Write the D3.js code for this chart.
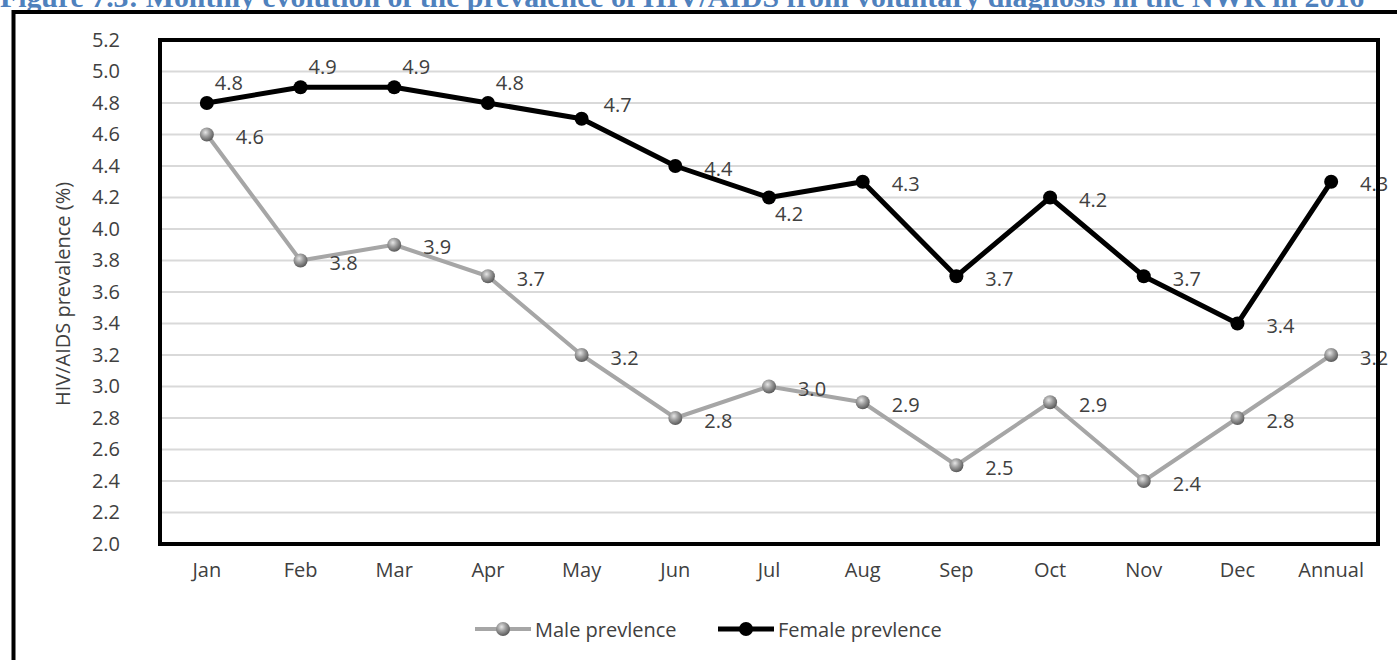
<!DOCTYPE html>
<html>
<head>
<meta charset="utf-8">
<script src="https://cdn.jsdelivr.net/npm/d3@7"></script>
<style>
  html, body { margin: 0; padding: 0; background: #ffffff; }
  svg { display: block; }
</style>
</head>
<body>
<svg id="chart" width="1397" height="660"></svg>
<script>
// ---- data ----
const categories = ["Jan", "Feb", "Mar", "Apr", "May", "Jun", "Jul", "Aug", "Sep", "Oct", "Nov", "Dec", "Annual"];
const maleValues = [4.6, 3.8, 3.9, 3.7, 3.2, 2.8, 3.0, 2.9, 2.5, 2.9, 2.4, 2.8, 3.2];
const femaleValues = [4.8, 4.9, 4.9, 4.8, 4.7, 4.4, 4.2, 4.3, 3.7, 4.2, 3.7, 3.4, 4.3];
const yTicks = [2.0, 2.2, 2.4, 2.6, 2.8, 3.0, 3.2, 3.4, 3.6, 3.8, 4.0, 4.2, 4.4, 4.6, 4.8, 5.0, 5.2];
const seriesNames = ["Male prevlence", "Female prevlence"];
const titleText = "Figure 7.3: Monthly evolution of the prevalence of HIV/AIDS from voluntary diagnosis in the NWR in 2016";
const yAxisTitle = "HIV/AIDS prevalence (%)";

// label placement modes (style only)
const femaleLabelMode = ["above", "above", "above", "above", "aboveRight", "right", "belowRight", "right", "right", "right", "right", "right", "right"];
const maleLabelMode = ["right", "right", "right", "right", "right", "right", "right", "right", "right", "right", "right", "right", "right"];

// ---- layout ----
const svg = d3.select("#chart");
const plot = { left: 160, right: 1378, top: 40, bottom: 544 };
const font = "'Open Sans', 'Noto Sans', sans-serif";
const fs = 20;
const textColor = "#404040";

const x = d3.scaleBand().domain(categories).range([plot.left, plot.right]).padding(0);
const y = d3.scaleLinear().domain([2.0, 5.2]).range([plot.bottom, plot.top]);
const cx = d => x(d) + x.bandwidth() / 2;

const defs = svg.append("defs");
const grad = defs.append("radialGradient").attr("id", "sphere")
  .attr("cx", "40%").attr("cy", "35%").attr("r", "65%");
grad.append("stop").attr("offset", "0%").attr("stop-color", "#e6e6e6");
grad.append("stop").attr("offset", "45%").attr("stop-color", "#a0a0a0");
grad.append("stop").attr("offset", "100%").attr("stop-color", "#5a5a5a");

// title (partially cut at top, as in the reference)
const title = svg.append("text")
  .attr("x", 0).attr("y", 7)
  .attr("font-family", "'Liberation Serif', 'Times New Roman', serif")
  .attr("font-weight", "bold")
  .attr("font-size", 24)
  .attr("fill", "#4f81bd")
  .text(titleText);
const tw = title.node().getComputedTextLength();
title.attr("font-size", 24 * 1365 / tw);

// outer frame
svg.append("line").attr("x1", 12).attr("x2", 1397).attr("y1", 12).attr("y2", 12)
  .attr("stroke", "#000").attr("stroke-width", 4);
svg.append("line").attr("x1", 13.5).attr("x2", 13.5).attr("y1", 10).attr("y2", 660)
  .attr("stroke", "#000").attr("stroke-width", 4);

// gridlines
svg.append("g").selectAll("line").data(yTicks.slice(1, -1)).join("line")
  .attr("x1", plot.left).attr("x2", plot.right)
  .attr("y1", d => y(d)).attr("y2", d => y(d))
  .attr("stroke", "#d9d9d9").attr("stroke-width", 2);

// y axis
const yAxis = d3.axisLeft(y).tickValues(yTicks).tickFormat(d3.format(".1f")).tickSize(0).tickPadding(40);
const yg = svg.append("g").attr("transform", `translate(${plot.left},0)`).call(yAxis);
yg.select(".domain").remove();
yg.selectAll("text").attr("font-family", font).attr("font-size", fs).attr("fill", textColor);

// x axis
const xAxis = d3.axisBottom(x).tickSize(0).tickPadding(19);
const xg = svg.append("g").attr("transform", `translate(0,${plot.bottom})`).call(xAxis);
xg.select(".domain").remove();
xg.selectAll("text").attr("font-family", font).attr("font-size", fs).attr("fill", textColor);

// y axis title
svg.append("text")
  .attr("transform", `translate(62,${(plot.top + plot.bottom) / 2 + 2}) rotate(-90)`)
  .attr("text-anchor", "middle").attr("dominant-baseline", "central")
  .attr("font-family", font).attr("font-size", fs).attr("fill", textColor)
  .text(yAxisTitle);

// lines
const line = d3.line().x(d => cx(d.c)).y(d => y(d.v));
const maleData = categories.map((c, i) => ({ c, v: maleValues[i], mode: maleLabelMode[i] }));
const femaleData = categories.map((c, i) => ({ c, v: femaleValues[i], mode: femaleLabelMode[i] }));

svg.append("path").datum(maleData).attr("d", line)
  .attr("fill", "none").attr("stroke", "#a6a6a6").attr("stroke-width", 4).attr("stroke-linejoin", "round");
svg.append("path").datum(femaleData).attr("d", line)
  .attr("fill", "none").attr("stroke", "#000").attr("stroke-width", 5).attr("stroke-linejoin", "round");

svg.append("g").selectAll("circle").data(maleData).join("circle")
  .attr("cx", d => cx(d.c)).attr("cy", d => y(d.v)).attr("r", 7)
  .attr("fill", "url(#sphere)");
svg.append("g").selectAll("circle").data(femaleData).join("circle")
  .attr("cx", d => cx(d.c)).attr("cy", d => y(d.v)).attr("r", 7)
  .attr("fill", "#000");

// data labels
const offsets = {
  above: [22, -21],
  aboveRight: [36, -14],
  right: [43, 2],
  belowRight: [20, 16]
};
function labels(data) {
  svg.append("g").selectAll("text").data(data).join("text")
    .attr("x", d => cx(d.c) + offsets[d.mode][0])
    .attr("y", d => y(d.v) + offsets[d.mode][1])
    .attr("text-anchor", "middle").attr("dominant-baseline", "central")
    .attr("font-family", font).attr("font-size", fs).attr("fill", textColor)
    .text(d => d3.format(".1f")(d.v));
}
labels(femaleData);
labels(maleData);

// plot frame
svg.append("rect")
  .attr("x", plot.left).attr("y", plot.top)
  .attr("width", plot.right - plot.left).attr("height", plot.bottom - plot.top)
  .attr("fill", "none").attr("stroke", "#000").attr("stroke-width", 4);

// legend
const legendY = 629;
const legend = [
  { name: seriesNames[0], x0: 475, stroke: "#a6a6a6", sw: 4, fill: "url(#sphere)" },
  { name: seriesNames[1], x0: 718, stroke: "#000", sw: 5, fill: "#000" }
];
const lg = svg.append("g").selectAll("g").data(legend).join("g");
lg.append("line").attr("x1", d => d.x0).attr("x2", d => d.x0 + 56)
  .attr("y1", legendY).attr("y2", legendY)
  .attr("stroke", d => d.stroke).attr("stroke-width", d => d.sw);
lg.append("circle").attr("cx", d => d.x0 + 28).attr("cy", legendY).attr("r", 7)
  .attr("fill", d => d.fill);
lg.append("text").attr("x", d => d.x0 + 60).attr("y", legendY)
  .attr("dominant-baseline", "central")
  .attr("font-family", font).attr("font-size", fs).attr("fill", textColor)
  .text(d => d.name);
</script>
</body>
</html>
